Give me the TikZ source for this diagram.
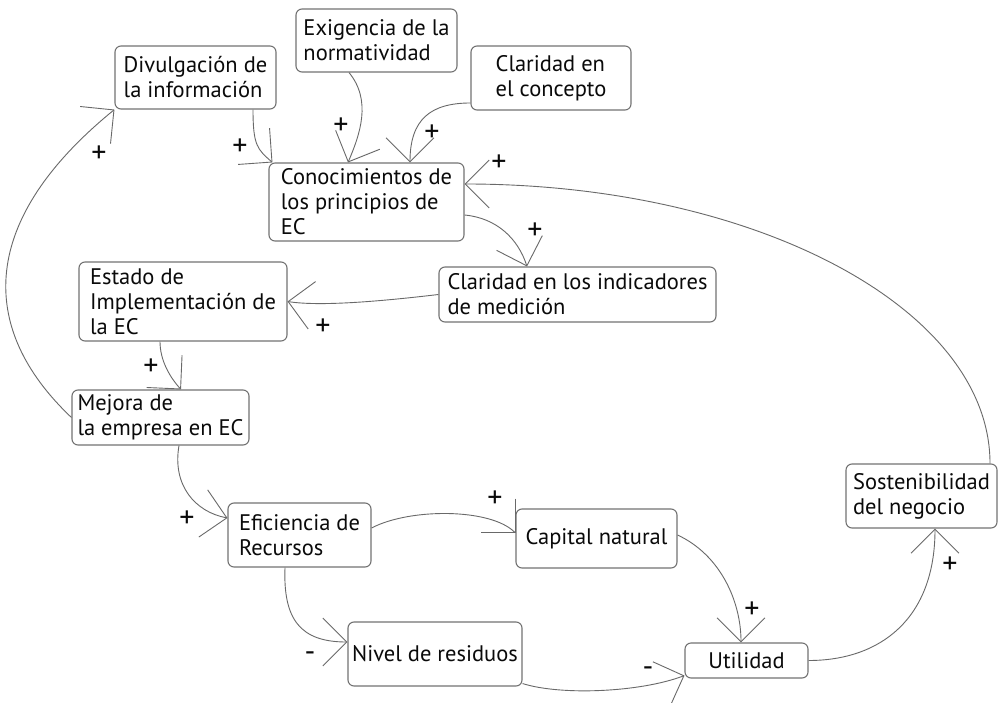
\documentclass[tikz,border=0pt]{standalone}
\usepackage{fontspec}
\setmainfont{PT Sans}
\usetikzlibrary{arrows.meta}
\definecolor{linegray}{RGB}{105,105,105}
\definecolor{boxgray}{RGB}{115,115,115}
\definecolor{txt}{RGB}{10,10,10}
\begin{document}
\begin{tikzpicture}[x=1pt,y=-1pt,
  box/.style={draw=boxgray, line width=1.1pt, rounded corners=6pt, align=left,
    inner xsep=3pt, inner ysep=2pt, font=\fontsize{22.5}{25}\selectfont, text=txt},
  link/.style={draw=linegray, line width=0.9pt, -{Straight Barb[length=24pt,width=48pt]}},
  sign/.style={font=\fontsize{30}{30}\selectfont, text=txt, inner sep=0pt}]
\useasboundingbox[fill=white] (0,0) rectangle (1000,703);

% boxes
\node[box, minimum width=161pt, minimum height=63pt] (div) at (195.5,77.5) {Divulgación de\\la información};
\node[box, minimum width=161pt, minimum height=63pt] (exi) at (376.5,40.5) {Exigencia de la\\normatividad};
\node[box, minimum width=160pt, minimum height=64pt] (cla) at (551,78) {Claridad en\\el concepto};
\node[box, minimum width=195pt, minimum height=78pt] (con) at (366.5,202) {Conocimientos de\\los principios de\\EC};
\node[box, minimum width=277pt, minimum height=55pt] (ind) at (577.5,294.5) {Claridad en los indicadores\\de medición};
\node[box, minimum width=208pt, minimum height=79pt] (est) at (183,301.5) {Estado de\\Implementación de\\la EC};
\node[box, minimum width=177pt, minimum height=55pt] (mej) at (160.5,417.5) {Mejora de\\la empresa en EC};
\node[box, minimum width=143pt, minimum height=64pt] (efi) at (299.5,535) {Eficiencia de\\Recursos};
\node[box, minimum width=161pt, minimum height=59pt] (cap) at (596.5,538.5) {Capital natural};
\node[box, minimum width=174pt, minimum height=64pt] (niv) at (435,654) {Nivel de residuos};
\node[box, minimum width=123pt, minimum height=35pt] (uti) at (746.5,660.5) {Utilidad};
\node[box, minimum width=151pt, minimum height=64pt] (sos) at (921.5,496) {Sostenibilidad\\del negocio};

% connectors
\draw[link] (mej.west) .. controls +(-95,-90) and +(-135,110) .. (div.south west);
\draw[link] ([xshift=57.5pt]div.south) .. controls +(0,36) and +(-15,-13) .. ([xshift=4pt]con.north west);
\draw[link] ([xshift=-27.5pt]exi.south) .. controls +(23,28) and +(12,-28) .. ([xshift=-18.5pt]con.north);
\draw[link] ([yshift=-25pt]cla.west) .. controls +(-40,0) and +(0,-43) .. ([xshift=43.5pt]con.north);
\draw[link] ([xshift=68.5pt]sos.north) .. controls +(0,-155) and +(291,0) .. ([yshift=18pt]con.east);
\draw[link] ([yshift=-13pt]con.east) .. controls +(32,3) and +(-9,-28) .. ([xshift=-50.5pt]ind.north);
\draw[link] (ind.west) .. controls +(-59,7) and +(32,5) .. (est.east);
\draw[link] ([xshift=-23pt]est.south) .. controls +(0,19) and +(-11,-12) .. ([xshift=20.5pt]mej.north);
\draw[link] ([xshift=18.5pt]mej.south) .. controls +(-7,40) and +(-32,-6) .. ([yshift=17pt]efi.west);
\draw[link] ([yshift=7pt]efi.east) .. controls +(38,-20) and +(-25,-25) .. ([yshift=5.5pt]cap.west);
\draw[link] ([xshift=-14.5pt]efi.south) .. controls +(-2,52) and +(-47,0) .. ([yshift=12pt]niv.west);
\draw[link] ([yshift=3.5pt]cap.east) .. controls +(43,20) and +(0,-41) .. ([xshift=-5.5pt]uti.north);
\draw[link] ([yshift=3pt]niv.south east) .. controls +(38,12) and +(-45,17) .. ([yshift=3pt]uti.south west);
\draw[link] (uti.east) .. controls +(72,0) and +(0,90) .. ([xshift=13.5pt]sos.south);

% polarity signs
\node[sign] (s1) at (99,154) {+};
\node[sign] (s2) at (240,147) {+};
\node[sign] (s3) at (341,126) {+};
\node[sign] (s4) at (432,133) {+};
\node[sign] (s5) at (499,163) {+};
\node[sign] (s6) at (535,231) {+};
\node[sign] (s7) at (323,327) {+};
\node[sign] (s8) at (151,367) {+};
\node[sign] (s9) at (187,519) {+};
\node[sign] (s10) at (495,499) {+};
\node[sign] (s11) at (310,657) {-};
\node[sign] (s12) at (752,610) {+};
\node[sign] (s13) at (648,672) {-};
\node[sign] (s14) at (950,565) {+};
\end{tikzpicture}
\end{document}
